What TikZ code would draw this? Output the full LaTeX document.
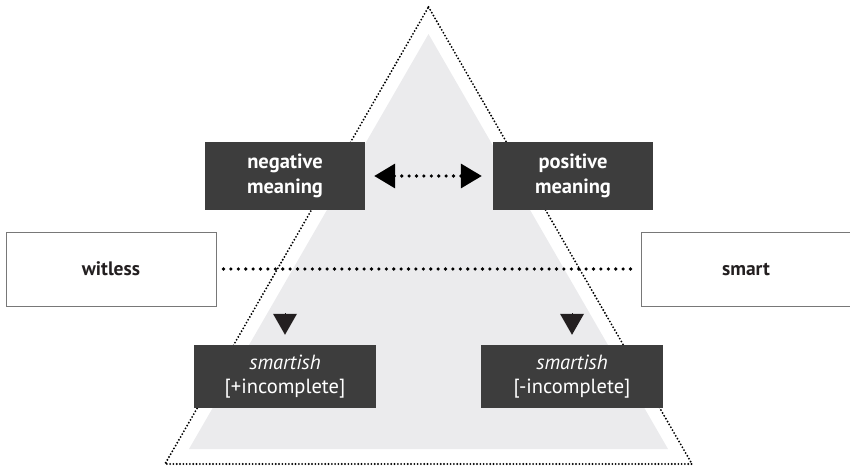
\documentclass[tikz,border=0pt]{standalone}
\usepackage{fontspec}
\setmainfont{PT Sans}
\usetikzlibrary{arrows.meta}
\definecolor{boxdark}{RGB}{61,61,61}
\definecolor{trifill}{RGB}{235,235,237}
\definecolor{tipdark}{RGB}{35,31,32}
\definecolor{framegray}{RGB}{120,120,120}

\begin{document}
\begin{tikzpicture}[x=1pt,y=-1pt,
  darkbox/.style={fill=boxdark,text=white,align=center,inner sep=0pt,
    minimum width=160pt,minimum height=68pt,
    font=\fontsize{20.5}{25}\selectfont\bfseries},
  featbox/.style={fill=boxdark,text=white,align=center,inner sep=0pt,
    minimum width=182pt,minimum height=63pt,
    font=\fontsize{20.5}{24}\selectfont},
  polebox/.style={draw=framegray,line width=1pt,fill=white,text=tipdark,
    minimum width=210pt,minimum height=74pt,inner sep=0pt,
    font=\fontsize{19.5}{23}\selectfont\bfseries},
  finedots/.style={line width=2.1pt,line cap=round,dash pattern=on 0pt off 3.3pt},
  bigdots/.style={line width=3.6pt,line cap=round,dash pattern=on 0pt off 7.4pt}
]
\useasboundingbox (0,0) rectangle (850,470);

% pyramid: grey body inside a dotted outline
\fill[trifill] (428.5,34) -- (668,449) -- (189,449) -- cycle;
\draw[finedots] (428.5,7) -- (692,464) -- (165,464) -- cycle;

% the two poles and the scale between them
\node[polebox] (witless) at (111,269) {witless};
\node[polebox] (smart) at (746,269) {smart};
\draw[bigdots,shorten <=7pt,shorten >=7pt] (witless.east) -- (smart.west);

% meanings
\node[darkbox] (neg) at (285,176) {negative\\meaning};
\node[darkbox] (pos) at (573,176) {positive\\meaning};
\draw[bigdots,{Triangle[length=21pt,width=24pt]}-{Triangle[length=21pt,width=24pt]},
  shorten <=9pt,shorten >=11pt] (neg.east) -- (pos.west);

% readings of smartish
\node[featbox] (lsm) at (285,376.5) {\textit{smartish}\\{}[+incomplete]};
\node[featbox] (rsm) at (572,376.5) {\textit{smartish}\\{}[-incomplete]};

\coordinate (ltop) at (285,314);
\coordinate (rtop) at (572,314);
\draw[line width=0pt,-{Triangle[length=21pt,width=24pt]},tipdark,shorten >=10pt] (ltop) -- (lsm.north);
\draw[line width=0pt,-{Triangle[length=21pt,width=24pt]},tipdark,shorten >=10pt] (rtop) -- (rsm.north);
\end{tikzpicture}
\end{document}
